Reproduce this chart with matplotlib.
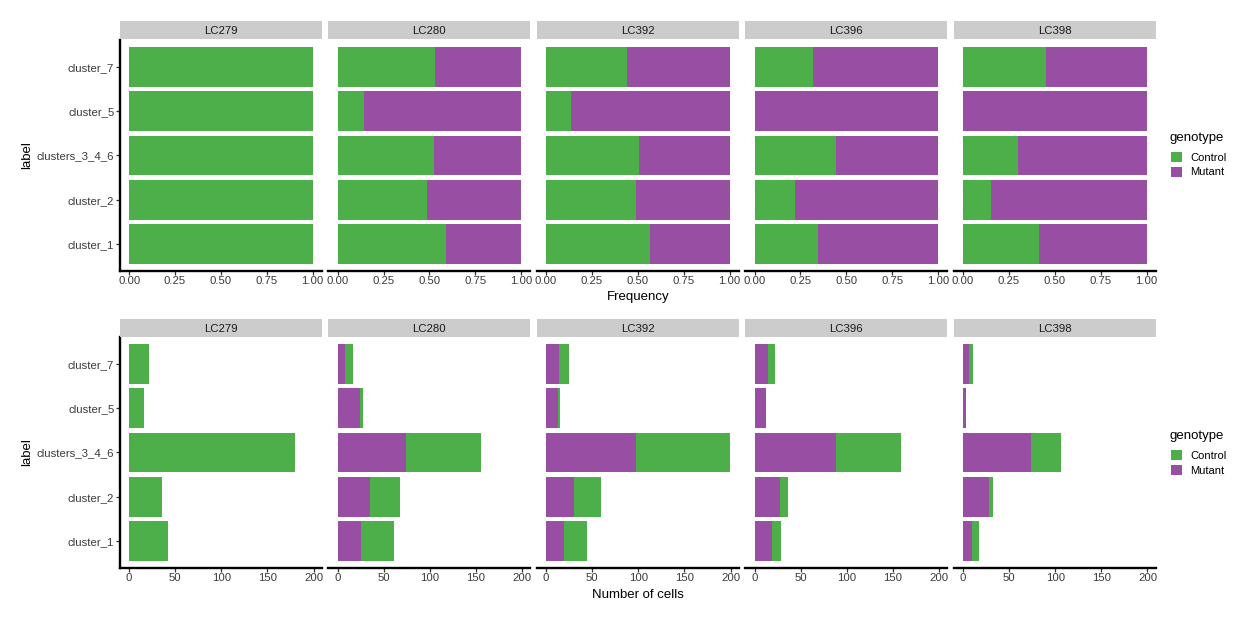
import numpy as np
import matplotlib
matplotlib.use("Agg")
import matplotlib.pyplot as plt
from matplotlib.patches import Patch

plt.rcParams["font.family"] = ["Liberation Sans", "DejaVu Sans"]

samples = ["LC279", "LC280", "LC392", "LC396", "LC398"]
labels = ["cluster_1", "cluster_2", "clusters_3_4_6", "cluster_5", "cluster_7"]

# cell counts per sample, in the order of `labels`
control = {
    "LC279": [42, 36, 180, 16, 22],
    "LC280": [36, 33, 81, 4, 9],
    "LC392": [25, 29, 101, 2, 11],
    "LC396": [10, 8, 71, 0, 7],
    "LC398": [7, 5, 32, 0, 5],
}
mutant = {
    "LC279": [0, 0, 0, 0, 0],
    "LC280": [25, 35, 74, 24, 8],
    "LC392": [19, 30, 98, 13, 14],
    "LC396": [19, 28, 88, 12, 15],
    "LC398": [10, 28, 74, 3, 6],
}

GREEN = "#4DAF4A"
PURPLE = "#984EA3"
W, H = 1248, 624


def px_axes(fig, x0, y0, x1, y1):
    # pixel box (top-left origin) -> figure axes
    return fig.add_axes([x0 / W, 1 - y1 / H, (x1 - x0) / W, (y1 - y0) / H])


def style_panel(ax, first, xlim, xticks, xticklabels):
    ax.set_xlim(*xlim)
    ax.set_ylim(0.4, 5.6)
    for s in ["top", "right"]:
        ax.spines[s].set_visible(False)
    ax.spines["bottom"].set_linewidth(1.7)
    ax.spines["left"].set_linewidth(1.7)
    ax.spines["left"].set_visible(first)
    ax.set_xticks(xticks)
    ax.set_xticklabels(xticklabels)
    ax.set_yticks(range(1, len(labels) + 1))
    if first:
        ax.set_yticklabels(labels)
    else:
        ax.tick_params(axis="y", left=False, labelleft=False)
    ax.tick_params(axis="both", length=2.6, width=0.9, color="#333333",
                   labelsize=8.2, labelcolor="#3A3A3A", pad=1.5)


def strip(fig, x0, y0, x1, y1, text):
    sa = px_axes(fig, x0, y0, x1, y1)
    sa.set_facecolor("#CCCCCC")
    sa.set_xticks([])
    sa.set_yticks([])
    for s in sa.spines.values():
        s.set_visible(False)
    sa.text(0.5, 0.45, text, ha="center", va="center", fontsize=8.2, color="#1A1A1A",
            transform=sa.transAxes)


fig = plt.figure(figsize=(W / 100, H / 100), dpi=100)

pw = 201.86
step = 208.46
lefts = [120 + i * step for i in range(len(samples))]
ypos = np.arange(1, len(labels) + 1)

totals_max = max(max(np.array(control[s]) + np.array(mutant[s])) for s in samples)
cnt_lim = (-0.05 * totals_max, 1.05 * totals_max)

for i, s in enumerate(samples):
    c = np.array(control[s], dtype=float)
    m = np.array(mutant[s], dtype=float)
    tot = c + m
    fc = c / tot
    fm = m / tot

    # top row: frequency
    ax = px_axes(fig, lefts[i], 40.4, lefts[i] + pw, 270.5)
    ax.barh(ypos, fc, height=0.9, color=GREEN)
    ax.barh(ypos, fm, left=fc, height=0.9, color=PURPLE)
    style_panel(ax, i == 0, (-0.05, 1.05), [0, 0.25, 0.5, 0.75, 1.0],
                ["0.00", "0.25", "0.50", "0.75", "1.00"])
    strip(fig, lefts[i], 21, lefts[i] + pw, 39.3, s)

    # bottom row: counts
    ax2 = px_axes(fig, lefts[i], 337.4, lefts[i] + pw, 567.5)
    ax2.barh(ypos, m, height=0.9, color=PURPLE)
    ax2.barh(ypos, c, left=m, height=0.9, color=GREEN)
    style_panel(ax2, i == 0, cnt_lim, [0, 50, 100, 150, 200],
                ["0", "50", "100", "150", "200"])
    strip(fig, lefts[i], 319, lefts[i] + pw, 336.7, s)

xc = (120 + lefts[-1] + pw) / 2 / W
fig.text(xc, 1 - 297 / H, "Frequency", ha="center", va="center", fontsize=9.5)
fig.text(xc, 1 - 595 / H, "Number of cells", ha="center", va="center", fontsize=9.5)
fig.text(27 / W, 1 - 155.5 / H, "label", rotation=90, ha="center", va="center", fontsize=9.5)
fig.text(27 / W, 1 - 452.5 / H, "label", rotation=90, ha="center", va="center", fontsize=9.5)

handles = [Patch(facecolor=GREEN, edgecolor="none"), Patch(facecolor=PURPLE, edgecolor="none")]
for title_y, keys_top in [(137.7, 151.8), (436, 450)]:
    fig.text(1169 / W, 1 - title_y / H, "genotype", ha="left", va="center", fontsize=9.5)
    fig.legend(handles, ["Control", "Mutant"],
               loc="upper left", bbox_to_anchor=(1171 / W, 1 - keys_top / H),
               frameon=False, fontsize=8, handlelength=1.0, handleheight=1.0,
               handletextpad=0.75, labelspacing=0.37, borderpad=0, borderaxespad=0)

fig.savefig("out.png", dpi=100)
